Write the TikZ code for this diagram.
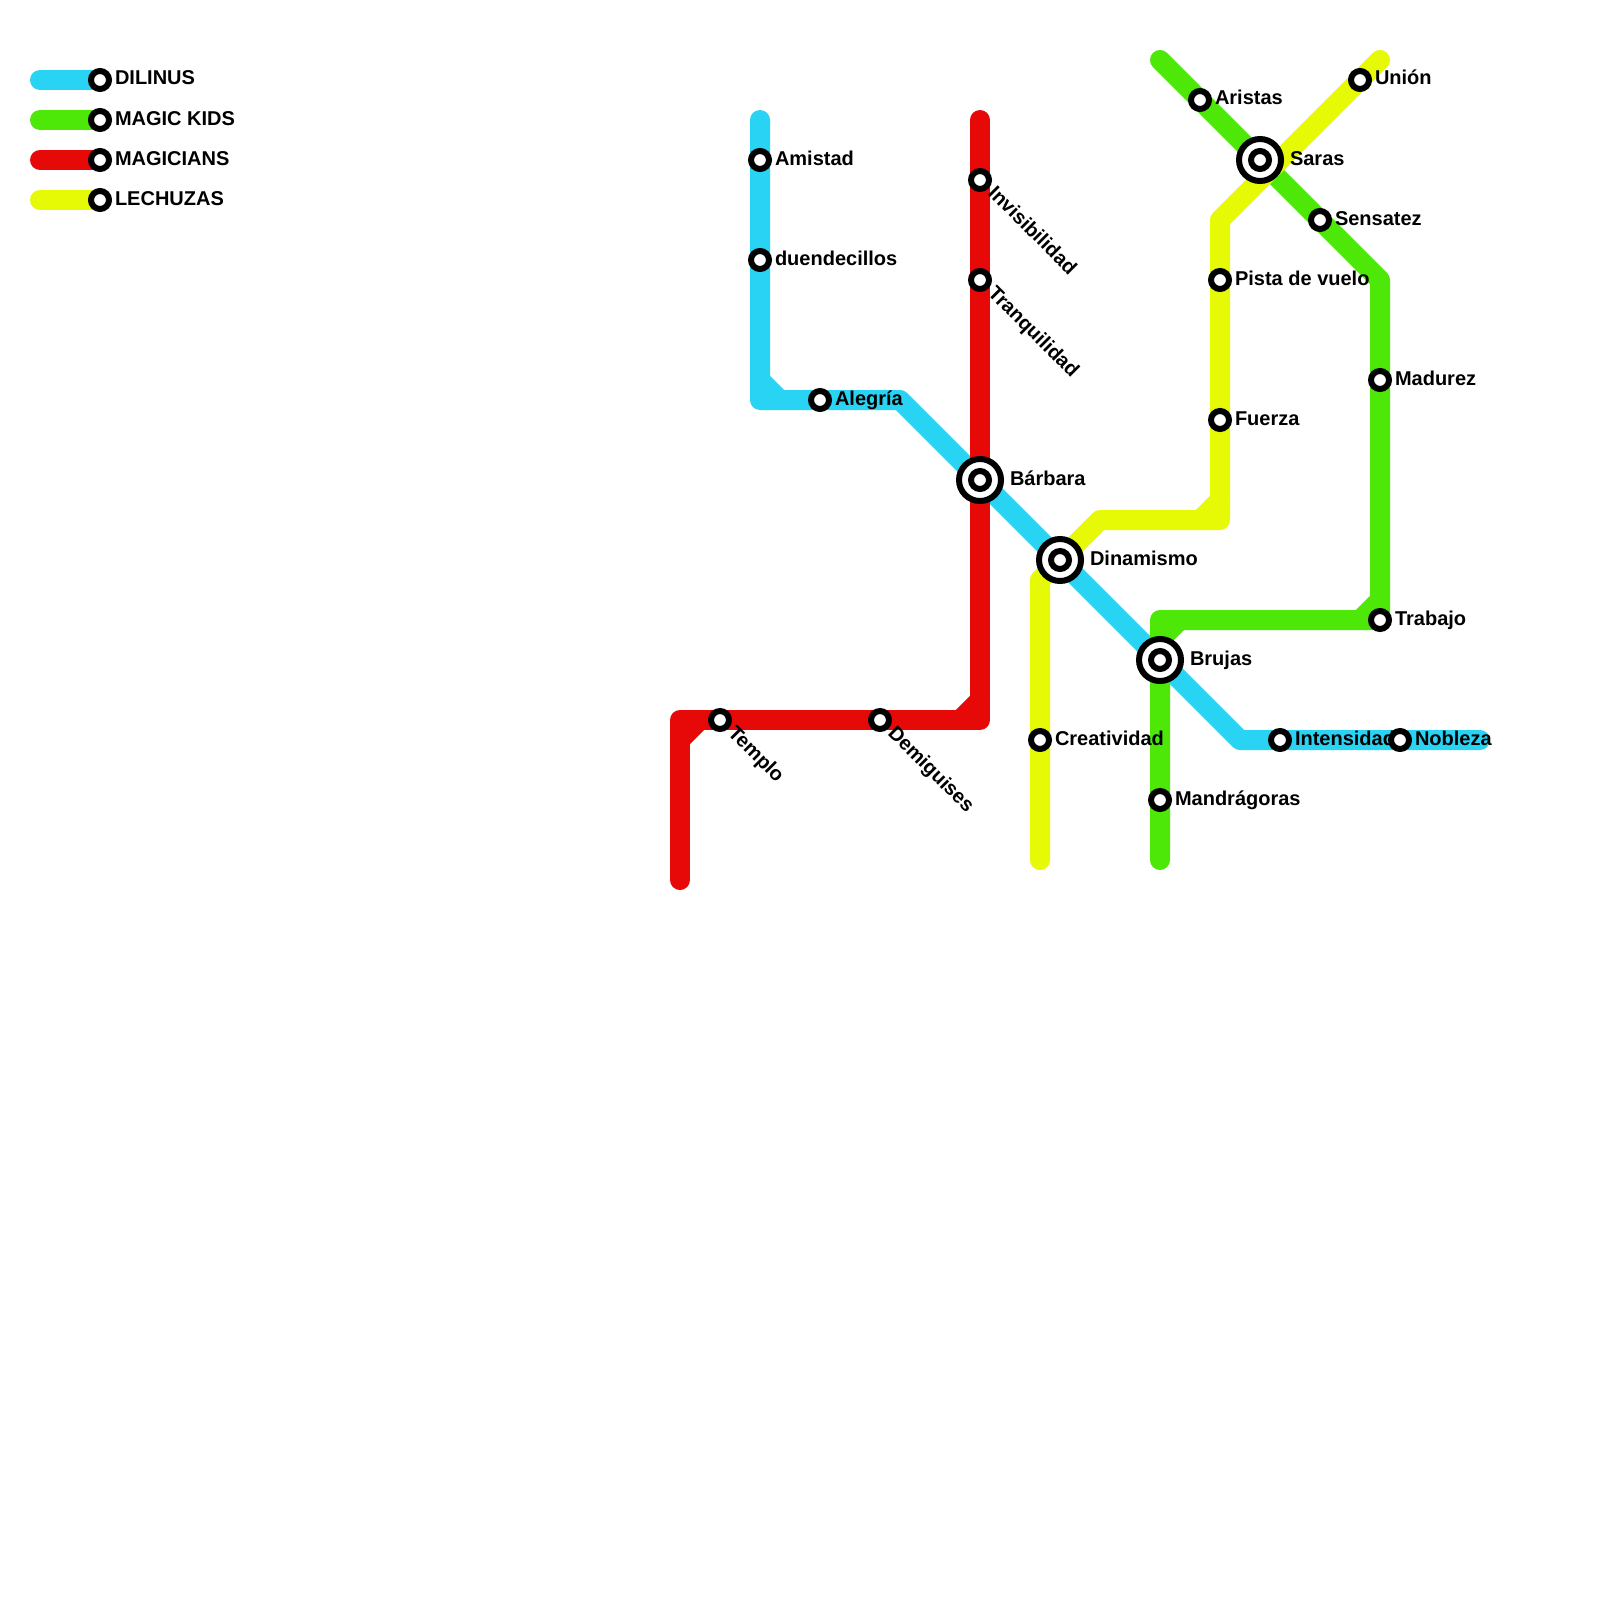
\documentclass[tikz,border=0pt]{standalone}
\usepackage{fontspec}
\setmainfont{Liberation Sans}
\pgfdeclarelayer{lines}
\pgfdeclarelayer{labels}
\pgfsetlayers{lines,labels,main}
\definecolor{cblue}{HTML}{29D3F3}
\definecolor{cgreen}{HTML}{4DE808}
\definecolor{cred}{HTML}{E70808}
\definecolor{cyellow}{HTML}{E6FA05}
\tikzset{
  route/.style={line width=20pt,line cap=round,line join=round},
  stn/.style={circle,draw=black,fill=white,line width=6pt,minimum size=18pt,inner sep=0pt,outer sep=0pt},
  hub/.style={circle,draw=black,fill=white,line width=6pt,minimum size=42pt,inner sep=0pt,outer sep=0pt},
  lbl/.style={anchor=base west,inner sep=0pt,outer sep=0pt,font=\fontsize{20}{24}\selectfont\bfseries,text=black},
  lblE/.style={lbl,xshift=15pt,yshift=-5pt},
  lblH/.style={lbl,xshift=30pt,yshift=-5pt},
  lblD/.style={lbl,rotate=-45,xshift=15pt,yshift=-5pt}
}
\begin{document}
\begin{tikzpicture}[x=1pt,y=-1pt]
\useasboundingbox (0,0) rectangle (1600,1600);
% hubs
\node[hub] (barbaraO) at (980,480) {};
\node[hub] (dinamismoO) at (1060,560) {};
\node[hub] (brujasO) at (1160,660) {};
\node[hub] (sarasO) at (1260,160) {};
% stations
\foreach \n/\x/\y in {barbara/980/480,dinamismo/1060/560,brujas/1160/660,saras/1260/160,
  amistad/760/160,duendecillos/760/260,alegria/820/400,intensidad/1280/740,nobleza/1400/740,
  aristas/1200/100,sensatez/1320/220,madurez/1380/380,trabajo/1380/620,mandragoras/1160/800,
  union/1360/80,pista/1220/280,fuerza/1220/420,creatividad/1040/740,
  invisibilidad/980/180,tranquilidad/980/280,demiguises/880/720,templo/720/720,
  legA/100/80,legB/100/120,legC/100/160,legD/100/200}
  \node[stn] (\n) at (\x,\y) {};
% waypoints
\coordinate (b0) at (760,120); \coordinate (b1) at (760,400); \coordinate (b2) at (900,400);
\coordinate (b3) at (1240,740); \coordinate (b4) at (1480,740);
\coordinate (bc1) at (760,380); \coordinate (bc2) at (780,400);
\coordinate (g0) at (1160,60); \coordinate (g1) at (1380,280); \coordinate (g3) at (1160,620);
\coordinate (g4) at (1160,860);
\coordinate (gc1) at (1380,600); \coordinate (gc2) at (1360,620);
\coordinate (gc3) at (1160,640); \coordinate (gc4) at (1180,620);
\coordinate (r0) at (980,120); \coordinate (r1) at (980,720); \coordinate (r2) at (680,720);
\coordinate (r3) at (680,880);
\coordinate (rc1) at (980,700); \coordinate (rc2) at (960,720);
\coordinate (rc3) at (680,740); \coordinate (rc4) at (700,720);
\coordinate (y0) at (1380,60); \coordinate (y1) at (1220,220); \coordinate (y2) at (1220,520);
\coordinate (y3) at (1100,520); \coordinate (y4) at (1040,580); \coordinate (y5) at (1040,860);
\coordinate (yc1) at (1220,500); \coordinate (yc2) at (1200,520);
\coordinate (la) at (40,80); \coordinate (lb) at (40,120); \coordinate (lc) at (40,160); \coordinate (ld) at (40,200);
\begin{pgfonlayer}{lines}
\fill[white] (0,0) rectangle (1600,1600);
\draw[route,cblue] (la) -- (legA.center);
\draw[route,cgreen] (lb) -- (legB.center);
\draw[route,cred] (lc) -- (legC.center);
\draw[route,cyellow] (ld) -- (legD.center);
\draw[route,cblue] (b0) -- (b1) -- (b2) -- (b3) -- (b4);
\draw[route,cblue] (bc1) -- (bc2);
\draw[route,cgreen] (g0) -- (g1) -- (trabajo.center) -- (g3) -- (g4);
\draw[route,cgreen] (gc1) -- (gc2);
\draw[route,cgreen] (gc3) -- (gc4);
\draw[route,cred] (r0) -- (r1) -- (r2) -- (r3);
\draw[route,cred] (rc1) -- (rc2);
\draw[route,cred] (rc3) -- (rc4);
\draw[route,cyellow] (y0) -- (y1) -- (y2) -- (y3) -- (y4) -- (y5);
\draw[route,cyellow] (yc1) -- (yc2);
\end{pgfonlayer}
\begin{pgfonlayer}{labels}
\node[lblE] (tA) at (legA) {DILINUS};
\node[lblE] (tB) at (legB) {MAGIC KIDS};
\node[lblE] (tC) at (legC) {MAGICIANS};
\node[lblE] (tD) at (legD) {LECHUZAS};
\node[lblE] (t1) at (amistad) {Amistad};
\node[lblE] (t2) at (duendecillos) {duendecillos};
\node[lblE] (t3) at (alegria) {Alegría};
\node[lblH] (t4) at (barbara) {Bárbara};
\node[lblH] (t5) at (dinamismo) {Dinamismo};
\node[lblH] (t6) at (brujas) {Brujas};
\node[lblH] (t7) at (saras) {Saras};
\node[lblE] (t8) at (intensidad) {Intensidad};
\node[lblE] (t9) at (nobleza) {Nobleza};
\node[lblE] (t10) at (aristas) {Aristas};
\node[lblE] (t11) at (sensatez) {Sensatez};
\node[lblE] (t12) at (madurez) {Madurez};
\node[lblE] (t13) at (trabajo) {Trabajo};
\node[lblE] (t14) at (mandragoras) {Mandrágoras};
\node[lblE] (t15) at (union) {Unión};
\node[lblE] (t16) at (pista) {Pista de vuelo};
\node[lblE] (t17) at (fuerza) {Fuerza};
\node[lblE] (t18) at (creatividad) {Creatividad};
\node[lblD] (t19) at (invisibilidad) {Invisibilidad};
\node[lblD] (t20) at (tranquilidad) {Tranquilidad};
\node[lblD] (t21) at (demiguises) {Demiguises};
\node[lblD] (t22) at (templo) {Templo};
\end{pgfonlayer}
\end{tikzpicture}
\end{document}
